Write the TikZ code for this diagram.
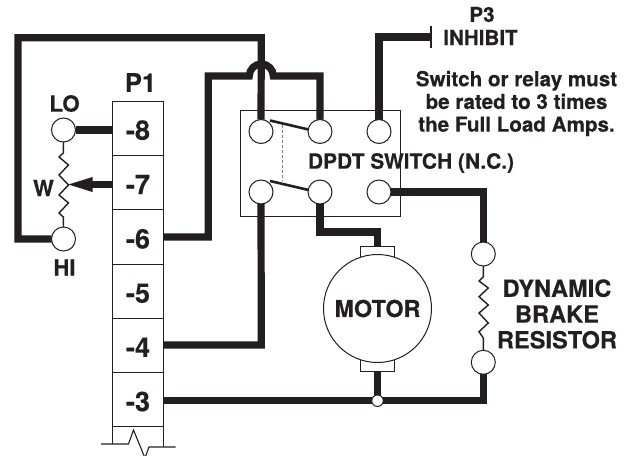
\documentclass[tikz,border=0pt]{standalone}
\usepackage{fontspec}
\setmainfont[BoldFeatures={FakeBold=0.35}]{TeX Gyre Heros}
\definecolor{ink}{HTML}{231F20}
\newcommand{\lab}[2]{\fontsize{#1}{#2}\selectfont\bfseries}
\begin{document}
\begin{tikzpicture}[x=1pt,y=-1pt,
  wire/.style={draw=ink,line width=7.2pt,line join=miter},
  thin line/.style={draw=ink,line width=1.1pt},
  term/.style={circle,draw=ink,fill=white,line width=1pt,minimum size=24pt,inner sep=0pt,outer sep=0pt},
  cell/.style={rectangle,draw=ink,line width=1pt,minimum width=51pt,minimum height=54.4pt,inner sep=0pt,outer sep=0pt,text=ink,font=\lab{27}{27},text height=23pt,text depth=0pt},
  txt/.style={text=ink,inner sep=0pt,align=center},
  brush/.style={rectangle,draw=ink,fill=white,line width=1pt,minimum width=34pt,inner sep=0pt,outer sep=0pt}]
\useasboundingbox (0,0) rectangle (626,455);
\clip (0,0) rectangle (626,455);
% terminal block
\node[cell] (c8) at (138,128.3) {-8};
\node[cell] (c7) at (138,182.6) {-7};
\node[cell] (c6) at (138,237) {-6};
\node[cell] (c5) at (138,291.2) {-5};
\node[cell] (c4) at (138,345.4) {-4};
\node[cell] (c3) at (138,399.7) {-3};
\coordinate (bl) at (112.5,444);
\coordinate (br) at (163.5,447);
\draw[thin line] (c3.south west) -- (bl);
\draw[thin line] (c3.south east) -- (br);
\draw[thin line] (101,444) -- (128.5,444) -- (133.5,430) -- (145,458) -- (149,447) -- (175.5,447);
\node[txt,font=\lab{25.5}{26}] (p1) at (140.5,82.5) {P1};
% switch
\node[rectangle,draw=ink,line width=1pt,minimum width=160pt,minimum height=106pt,inner sep=0pt,outer sep=0pt] (sw) at (320.6,163) {};
\node[term] (a1) at (261,131.5) {};
\node[term] (a2) at (320,131.5) {};
\node[term] (a3) at (379,131.5) {};
\node[term] (b1) at (261,192) {};
\node[term] (b2) at (320,192) {};
\node[term] (b3) at (379,192) {};
\draw[ink,line width=2.6pt] ([xshift=9pt,yshift=11pt]a1.center) -- (a2.170);
\draw[ink,line width=2.6pt] ([xshift=9pt,yshift=11pt]b1.center) -- (b2.170);
\draw[gray,line width=1pt,densely dashed] (282.7,125) -- (282.7,181);
\node[txt,font=\lab{20.9}{21}] (dpdt) at (411,163) {DPDT SWITCH (N.C.)};
% potentiometer
\node[term] (lo) at (63.5,130) {};
\node[term] (hi) at (63.5,239) {};
\node[txt,font=\lab{22.3}{23}] (lolab) at (64.5,103.5) {LO};
\node[txt,font=\lab{22}{23}] (hilab) at (64.5,267.5) {HI};
\node[txt,font=\lab{22}{23}] (w) at (43.5,188) {W};
\draw[thin line,line width=1.4pt] (lo.south) -- (63.3,153) -- (59,157) -- (68.5,165) -- (59,175) -- (68.5,185) -- (59,195) -- (68.5,203) -- (59,213) -- (63.3,217) -- (hi.north);
\coordinate (tip) at (68.5,184.5);
\fill[ink] (tip) -- (92.5,177) -- (92.5,192) -- cycle;
\draw[ink,line width=7.2pt] (c7.west |- tip) -- (90,184.5);
\draw[wire] (lo.east) -- (c8.west |- lo);
% motor
\node[brush,minimum height=14pt] (bt) at (377.5,253.7) {};
\node[brush,minimum height=14pt] (bb) at (377.5,364.5) {};
\node[circle,draw=ink,fill=white,line width=1pt,minimum size=108pt,inner sep=0pt,outer sep=0pt,text=ink,font=\lab{23.3}{24}] (motor) at (377.5,308.5) {MOTOR};
% brake resistor
\node[term] (r1) at (483.3,254) {};
\node[term] (r2) at (483.3,362.3) {};
\draw[thin line,line width=1.4pt] (r1.south) -- (483.3,276.7) -- (479,281) -- (488.3,288) -- (479,296.7) -- (488.3,305) -- (479,313) -- (488.3,323) -- (479,331.7) -- (483.3,338) -- (r2.north);
\node[txt,font=\lab{23.6}{25.8}] (dbr) at (557,314) {DYNAMIC\\BRAKE\\RESISTOR};
% wires
\coordinate (jn) at (377.5,400.7);
\coordinate (p3) at (431,37);
\draw[wire] (hi.west) -- (18,239) -- (18,37.7) -- (261.3,37.7) -- (a1.north);
\draw[wire] (c6.east) -- (208.3,237) -- (208.3,76) -- (249.3,76) .. controls (249.3,69.4) and (254.7,64) .. (261.3,64) .. controls (267.9,64) and (273.3,69.4) .. (273.3,76) -- (320,76) -- (a2.north);
\draw[wire] (a3.north) -- (379,37) -- (p3);
\draw[ink,line width=2.6pt] (431,26) -- (431,48);
\draw[wire] (c4.east |- 0,345) -- (261.3,345) -- (b1.south);
\draw[wire] (b2.south) -- (320,232) -- (377.5,232) -- (bt.north);
\draw[wire] (b3.east) -- (483.3,192) -- (r1.north);
\draw[wire] (c3.east |- jn) -- (483.3,400.7) -- (r2.south);
\draw[wire] (bb.south) -- (jn);
\node[circle,draw=ink,fill=white,line width=1pt,minimum size=11.5pt,inner sep=0pt] (j) at (jn) {};
% labels
\node[txt,font=\lab{20.6}{21}] (p3t) at (482,14.5) {P3};
\node[txt,font=\lab{20.6}{21}] (inh) at (480.5,37.5) {INHIBIT};
\node[txt,font=\lab{20.6}{22.7}] (note) at (516.5,103.5) {Switch or relay must\\be rated to 3 times\\the Full Load Amps.};
\end{tikzpicture}
\end{document}
